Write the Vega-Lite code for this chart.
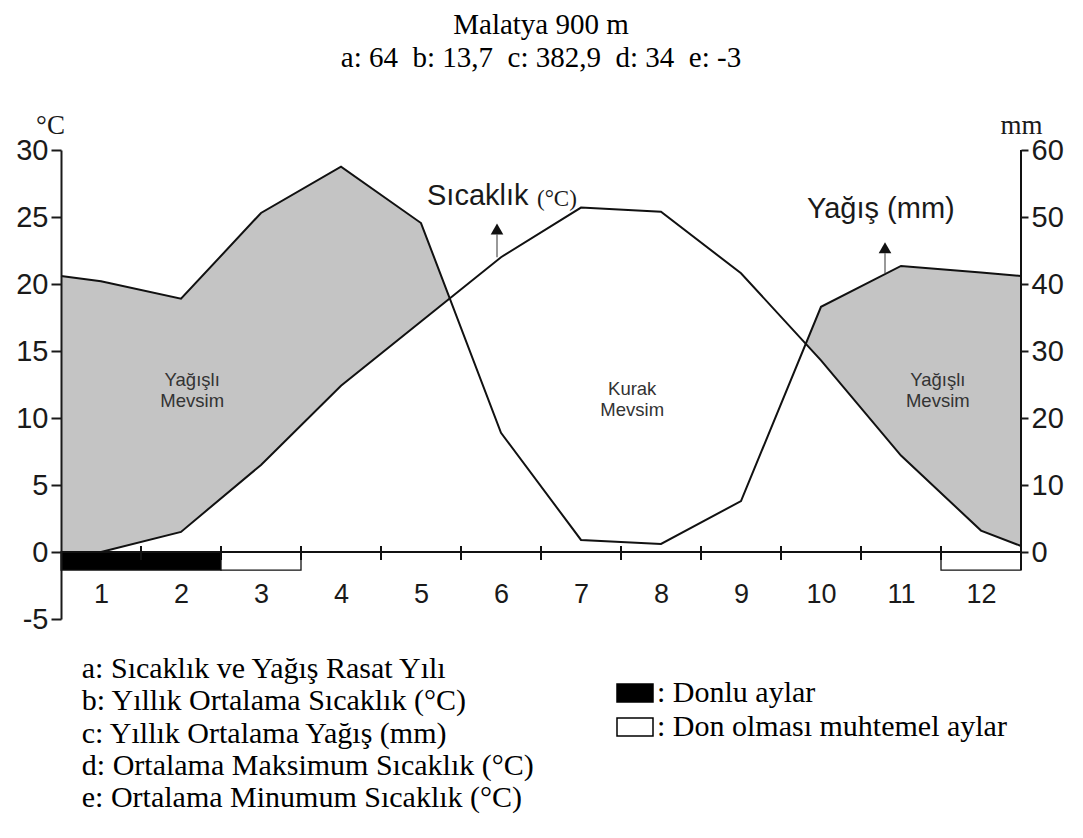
{
  "$schema": "https://vega.github.io/schema/vega-lite/v6.json",
  "autosize": {"type": "none"},
  "width": 960,
  "height": 469,
  "padding": {"left": 61, "top": 150, "right": 62, "bottom": 219},
  "background": "white",
  "config": {
    "view": {"stroke": null},
    "axisX": {"domain": false, "ticks": false, "grid": false, "labelFont": "Liberation Sans", "labelFontSize": 27, "labelColor": "#1a1a1a", "offset": -40, "labelPadding": 2, "labelFlush": false, "format": "d"},
    "axisY": {"grid": false}
  },
  "title": {
    "text": ["Malatya 900 m", "a: 64 \u00a0b: 13,7 \u00a0c: 382,9 \u00a0d: 34 \u00a0e: -3"],
    "font": "Liberation Serif", "fontSize": 29, "fontWeight": "normal", "color": "black",
    "lineHeight": 33, "anchor": "middle", "offset": 38
  },
  "datasets": {
    "iklim": [
      {"ay": 0.5, "sicaklik": -0.4, "yagis": 41.2},
      {"ay": 1, "sicaklik": 0.0, "yagis": 40.4},
      {"ay": 2, "sicaklik": 1.5, "yagis": 37.8},
      {"ay": 3, "sicaklik": 6.5, "yagis": 50.6},
      {"ay": 4, "sicaklik": 12.4, "yagis": 57.5},
      {"ay": 5, "sicaklik": 17.2, "yagis": 49.1},
      {"ay": 6, "sicaklik": 22.0, "yagis": 17.8},
      {"ay": 7, "sicaklik": 25.7, "yagis": 1.8},
      {"ay": 8, "sicaklik": 25.4, "yagis": 1.2},
      {"ay": 9, "sicaklik": 20.8, "yagis": 7.6},
      {"ay": 10, "sicaklik": 14.3, "yagis": 36.6},
      {"ay": 11, "sicaklik": 7.2, "yagis": 42.7},
      {"ay": 12, "sicaklik": 1.6, "yagis": 41.7},
      {"ay": 12.5, "sicaklik": 0.45, "yagis": 41.2}
    ],
    "don": [
      {"bas": 0.5, "son": 2.5, "tip": "Donlu aylar"},
      {"bas": 2.5, "son": 3.5, "tip": "Don olması muhtemel aylar"},
      {"bas": 11.5, "son": 12.5, "tip": "Don olması muhtemel aylar"}
    ],
    "sinir": [{"ay": 1.5}, {"ay": 2.5}, {"ay": 3.5}, {"ay": 4.5}, {"ay": 5.5}, {"ay": 6.5}, {"ay": 7.5}, {"ay": 8.5}, {"ay": 9.5}, {"ay": 10.5}, {"ay": 11.5}],
    "bir": [{}]
  },
  "layer": [
    {
      "data": {"name": "iklim"},
      "mark": {"type": "area", "color": "#c4c4c4"},
      "encoding": {
        "x": {"field": "ay", "type": "quantitative", "scale": {"domain": [0.5, 12.5]}, "axis": {"values": [1, 2, 3, 4, 5, 6, 7, 8, 9, 10, 11, 12]}, "title": null},
        "y": {"field": "yagis", "type": "quantitative", "scale": {"domain": [-10, 60]},
          "axis": {"orient": "right", "values": [0, 10, 20, 30, 40, 50, 60], "domain": false, "tickSize": 7, "tickWidth": 2, "tickColor": "#1a1a1a",
            "labelFont": "Liberation Sans", "labelFontSize": 29, "labelColor": "#1a1a1a", "labelPadding": 3,
            "title": "mm", "titleFont": "Liberation Serif", "titleFontSize": 27, "titleFontWeight": "normal", "titleColor": "#1a1a1a",
            "titleAngle": 0, "titleAlign": "center", "titleBaseline": "alphabetic", "titleX": 0, "titleY": -17, "zindex": 1}},
        "y2": {"datum": 0}
      }
    },
    {
      "data": {"name": "iklim"},
      "mark": {"type": "area", "color": "white"},
      "encoding": {
        "x": {"field": "ay", "type": "quantitative", "scale": {"domain": [0.5, 12.5]}, "axis": {"values": [1, 2, 3, 4, 5, 6, 7, 8, 9, 10, 11, 12]}, "title": null},
        "y": {"field": "sicaklik", "type": "quantitative", "scale": {"domain": [-5, 30]},
          "axis": {"orient": "left", "values": [-5, 0, 5, 10, 15, 20, 25, 30], "labelExpr": "toString(datum.value)", "domainColor": "#1a1a1a", "domainWidth": 2, "tickSize": 10, "tickWidth": 2, "tickColor": "#1a1a1a",
            "labelFont": "Liberation Sans", "labelFontSize": 29, "labelColor": "#1a1a1a", "labelPadding": 3,
            "title": "°C", "titleFont": "Liberation Serif", "titleFontSize": 27, "titleFontWeight": "normal", "titleColor": "#1a1a1a",
            "titleAngle": 0, "titleAlign": "center", "titleBaseline": "alphabetic", "titleX": -11, "titleY": -17, "zindex": 1}},
        "y2": {"datum": 0}
      }
    },
    {
      "data": {"name": "iklim"},
      "mark": {"type": "line", "color": "#111111", "strokeWidth": 2},
      "encoding": {
        "x": {"field": "ay", "type": "quantitative", "scale": {"domain": [0.5, 12.5]}, "axis": {"values": [1, 2, 3, 4, 5, 6, 7, 8, 9, 10, 11, 12]}, "title": null},
        "y": {"field": "yagis", "type": "quantitative", "scale": {"domain": [-10, 60]}, "axis": null}
      }
    },
    {
      "layer": [
        {
          "data": {"name": "iklim"},
          "mark": {"type": "line", "color": "#111111", "strokeWidth": 2},
          "encoding": {
            "x": {"field": "ay", "type": "quantitative", "scale": {"domain": [0.5, 12.5]}, "axis": {"values": [1, 2, 3, 4, 5, 6, 7, 8, 9, 10, 11, 12]}, "title": null},
            "y": {"field": "sicaklik", "type": "quantitative", "scale": {"domain": [-5, 30]}, "axis": null}
          }
        },
        {
          "data": {"name": "don"},
          "mark": {"type": "rect", "stroke": "#111111", "strokeWidth": 1.3},
          "encoding": {
            "x": {"field": "bas", "type": "quantitative", "scale": {"domain": [0.5, 12.5]}, "title": null},
            "x2": {"field": "son"},
            "y": {"datum": 0, "type": "quantitative", "scale": {"domain": [-5, 30]}, "axis": null},
            "y2": {"datum": -1.35},
            "color": {"field": "tip", "type": "nominal",
              "scale": {"domain": ["Donlu aylar", "Don olması muhtemel aylar"], "range": ["black", "white"]},
              "legend": {"orient": "none", "legendX": 555, "legendY": 524, "title": null, "direction": "vertical",
                "symbolType": "M-1,-0.5H1V0.5H-1Z", "symbolSize": 1296, "symbolStrokeColor": "black", "symbolStrokeWidth": 1.5,
                "labelFont": "Liberation Serif", "labelFontSize": 30, "labelColor": "black", "labelExpr": "': ' + datum.label",
                "labelOffset": 3, "rowPadding": -3, "labelLimit": 600}}
          }
        },
        {
          "data": {"name": "bir"},
          "mark": {"type": "rule", "color": "#111111", "strokeWidth": 2},
          "encoding": {
            "x": {"datum": 0.5, "type": "quantitative", "scale": {"domain": [0.5, 12.5]}},
            "x2": {"datum": 12.5},
            "y": {"datum": 0, "type": "quantitative", "scale": {"domain": [-5, 30]}, "axis": null}
          }
        },
        {
          "data": {"name": "bir"},
          "mark": {"type": "rule", "color": "#111111", "strokeWidth": 2},
          "encoding": {
            "x": {"datum": 12.5, "type": "quantitative", "scale": {"domain": [0.5, 12.5]}},
            "y": {"datum": 30, "type": "quantitative", "scale": {"domain": [-5, 30]}, "axis": null},
            "y2": {"datum": -1.35}
          }
        },
        {
          "data": {"name": "sinir"},
          "mark": {"type": "rule", "color": "#111111", "strokeWidth": 2},
          "encoding": {
            "x": {"field": "ay", "type": "quantitative", "scale": {"domain": [0.5, 12.5]}, "title": null},
            "y": {"datum": 0.45, "type": "quantitative", "scale": {"domain": [-5, 30]}, "axis": null},
            "y2": {"datum": -0.6}
          }
        },
        {
          "data": {"name": "bir"},
          "mark": {"type": "rule", "color": "#555555", "strokeWidth": 1.2},
          "encoding": {
            "x": {"datum": 5.95, "type": "quantitative", "scale": {"domain": [0.5, 12.5]}},
            "y": {"datum": 22.0, "type": "quantitative", "scale": {"domain": [-5, 30]}, "axis": null},
            "y2": {"datum": 23.7}
          }
        },
        {
          "data": {"name": "bir"},
          "mark": {"type": "point", "shape": "triangle-up", "filled": true, "color": "#111111", "size": 160, "opacity": 1},
          "encoding": {
            "x": {"datum": 5.95, "type": "quantitative", "scale": {"domain": [0.5, 12.5]}},
            "y": {"datum": 24.1, "type": "quantitative", "scale": {"domain": [-5, 30]}, "axis": null}
          }
        },
        {
          "data": {"name": "bir"},
          "mark": {"type": "rule", "color": "#555555", "strokeWidth": 1.2},
          "encoding": {
            "x": {"datum": 10.8, "type": "quantitative", "scale": {"domain": [0.5, 12.5]}},
            "y": {"datum": 20.8, "type": "quantitative", "scale": {"domain": [-5, 30]}, "axis": null},
            "y2": {"datum": 22.3}
          }
        },
        {
          "data": {"name": "bir"},
          "mark": {"type": "point", "shape": "triangle-up", "filled": true, "color": "#111111", "size": 160, "opacity": 1},
          "encoding": {
            "x": {"datum": 10.8, "type": "quantitative", "scale": {"domain": [0.5, 12.5]}},
            "y": {"datum": 22.7, "type": "quantitative", "scale": {"domain": [-5, 30]}, "axis": null}
          }
        },
        {
          "data": {"name": "bir"},
          "mark": {"type": "text", "text": "Sıcaklık", "font": "Liberation Sans", "fontSize": 29, "color": "#1a1a1a", "align": "left", "baseline": "alphabetic"},
          "encoding": {
            "x": {"datum": 5.075, "type": "quantitative", "scale": {"domain": [0.5, 12.5]}},
            "y": {"datum": 25.9, "type": "quantitative", "scale": {"domain": [-5, 30]}, "axis": null}
          }
        },
        {
          "data": {"name": "bir"},
          "mark": {"type": "text", "text": "(°C)", "font": "Liberation Serif", "fontSize": 23, "color": "#1a1a1a", "align": "left", "baseline": "alphabetic"},
          "encoding": {
            "x": {"datum": 6.45, "type": "quantitative", "scale": {"domain": [0.5, 12.5]}},
            "y": {"datum": 25.8, "type": "quantitative", "scale": {"domain": [-5, 30]}, "axis": null}
          }
        },
        {
          "data": {"name": "bir"},
          "mark": {"type": "text", "text": "Yağış (mm)", "font": "Liberation Sans", "fontSize": 29, "color": "#1a1a1a", "align": "left", "baseline": "alphabetic"},
          "encoding": {
            "x": {"datum": 9.825, "type": "quantitative", "scale": {"domain": [0.5, 12.5]}},
            "y": {"datum": 24.9, "type": "quantitative", "scale": {"domain": [-5, 30]}, "axis": null}
          }
        },
        {
          "data": {"name": "bir"},
          "mark": {"type": "text", "text": ["Yağışlı", "Mevsim"], "font": "Liberation Sans", "fontSize": 18.5, "lineHeight": 21, "color": "#333333", "align": "center", "baseline": "middle"},
          "encoding": {
            "x": {"datum": 2.14, "type": "quantitative", "scale": {"domain": [0.5, 12.5]}},
            "y": {"datum": 12.8, "type": "quantitative", "scale": {"domain": [-5, 30]}, "axis": null}
          }
        },
        {
          "data": {"name": "bir"},
          "mark": {"type": "text", "text": ["Kurak", "Mevsim"], "font": "Liberation Sans", "fontSize": 18.5, "lineHeight": 21, "color": "#333333", "align": "center", "baseline": "middle"},
          "encoding": {
            "x": {"datum": 7.64, "type": "quantitative", "scale": {"domain": [0.5, 12.5]}},
            "y": {"datum": 12.2, "type": "quantitative", "scale": {"domain": [-5, 30]}, "axis": null}
          }
        },
        {
          "data": {"name": "bir"},
          "mark": {"type": "text", "text": ["Yağışlı", "Mevsim"], "font": "Liberation Sans", "fontSize": 18.5, "lineHeight": 21, "color": "#333333", "align": "center", "baseline": "middle"},
          "encoding": {
            "x": {"datum": 11.46, "type": "quantitative", "scale": {"domain": [0.5, 12.5]}},
            "y": {"datum": 12.8, "type": "quantitative", "scale": {"domain": [-5, 30]}, "axis": null}
          }
        },
        {
          "data": {"name": "bir"},
          "mark": {"type": "text", "text": ["a: Sıcaklık ve Yağış Rasat Yılı", "b: Yıllık Ortalama Sıcaklık (°C)", "c: Yıllık Ortalama Yağış (mm)", "d: Ortalama Maksimum Sıcaklık (°C)", "e: Ortalama Minumum Sıcaklık (°C)"],
            "font": "Liberation Serif", "fontSize": 30, "lineHeight": 32.3, "color": "black", "align": "left", "baseline": "top"},
          "encoding": {
            "x": {"datum": 0.76, "type": "quantitative", "scale": {"domain": [0.5, 12.5]}},
            "y": {"datum": -7.61, "type": "quantitative", "scale": {"domain": [-5, 30]}, "axis": null}
          }
        }
      ]
    }
  ],
  "resolve": {"scale": {"y": "independent"}}
}
